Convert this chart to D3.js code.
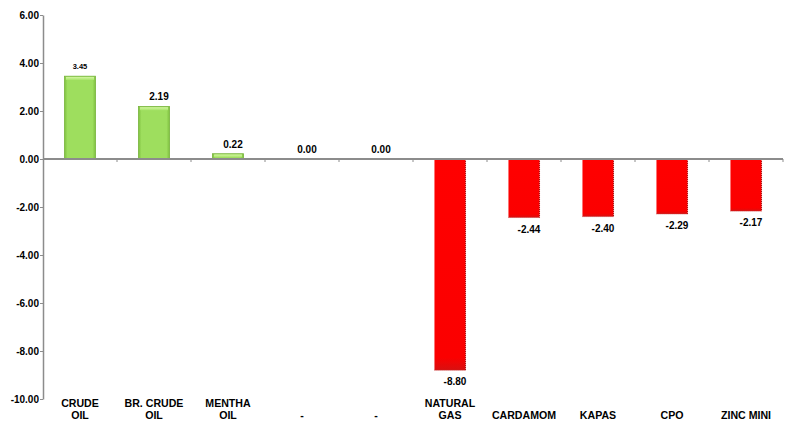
<!DOCTYPE html>
<html>
<head>
<meta charset="utf-8">
<script src="https://cdn.jsdelivr.net/npm/d3@7"></script>
<style>
  html, body { margin: 0; padding: 0; background: #fff; }
  svg { display: block; font-family: "Liberation Sans", Arial, sans-serif; }
</style>
</head>
<body>
<svg id="chart" width="790" height="421"></svg>
<script>
// Commodity price change (%)
const categories = [
  ["CRUDE", "OIL"], ["BR. CRUDE", "OIL"], ["MENTHA", "OIL"], ["-"], ["-"],
  ["NATURAL", "GAS"], ["CARDAMOM"], ["KAPAS"], ["CPO"], ["ZINC MINI"]
];
const values = [3.45, 2.19, 0.22, 0.00, 0.00, -8.80, -2.44, -2.40, -2.29, -2.17];
const yTicks = [6, 4, 2, 0, -2, -4, -6, -8, -10];

const fmt = v => v.toFixed(2); // plain hyphen for negatives

const svg = d3.select("#chart");
const plotLeft = 43, plotRight = 783, plotTop = 15, plotBottom = 399;

const x = d3.scaleBand()
  .domain(d3.range(values.length))
  .range([plotLeft, plotRight])
  .paddingInner(0.58)
  .paddingOuter(0.29);

const y = d3.scaleLinear().domain([-10, 6]).range([plotBottom, plotTop]);

// Gradients for the bevelled bars
const defs = svg.append("defs");
const gGreen = defs.append("linearGradient").attr("id", "green").attr("x1", 0).attr("x2", 1).attr("y1", 0).attr("y2", 0);
[[0, "#7fc040"], [0.1, "#9ede5e"], [0.9, "#9ede5e"], [1, "#7fc040"]]
  .forEach(([o, c]) => gGreen.append("stop").attr("offset", o).attr("stop-color", c));
const gGreenTop = defs.append("linearGradient").attr("id", "greenTop").attr("x1", 0).attr("x2", 0).attr("y1", 0).attr("y2", 1);
[[0, "#d2f5a0"], [1, "#a8e46a"]]
  .forEach(([o, c]) => gGreenTop.append("stop").attr("offset", o).attr("stop-color", c));
const gRed = defs.append("linearGradient").attr("id", "red").attr("x1", 0).attr("x2", 0).attr("y1", 0).attr("y2", 1);
[[0, "#ff0000"], [0.94, "#fb0000"], [1, "#d81010"]]
  .forEach(([o, c]) => gRed.append("stop").attr("offset", o).attr("stop-color", c));

// Y axis
const yAxis = d3.axisLeft(y).tickValues(yTicks).tickFormat(fmt)
  .tickSize(3).tickSizeOuter(0).tickPadding(1);
const ya = svg.append("g").attr("transform", `translate(${plotLeft},0)`).call(yAxis);
ya.attr("font-family", null);
ya.select(".domain").attr("stroke", "#8c8c8c").attr("stroke-width", 1.5);
ya.selectAll(".tick line").attr("stroke", "#8c8c8c");
ya.selectAll(".tick text")
  .attr("fill", "#000").attr("font-size", 10).attr("font-weight", "bold");

// Bars
const bars = svg.append("g");
values.forEach((v, i) => {
  const x0 = x(i), w = x.bandwidth();
  const y0 = y(Math.max(0, v)), h = Math.abs(y(v) - y(0));
  if (h < 0.5) return;
  if (v > 0) {
    bars.append("rect").attr("x", x0).attr("y", y0).attr("width", w).attr("height", h)
      .attr("fill", "url(#green)").attr("stroke", "#78b43c").attr("stroke-width", 0.8);
    bars.append("rect").attr("x", x0 + 1.5).attr("y", y0 + 0.8).attr("width", w - 3).attr("height", Math.min(3, h / 2))
      .attr("fill", "url(#greenTop)");
  } else {
    bars.append("rect").attr("x", x0).attr("y", y0).attr("width", w).attr("height", h)
      .attr("fill", "url(#red)");
    bars.append("line").attr("x1", x0 + w).attr("x2", x0 + w).attr("y1", y0).attr("y2", y0 + h)
      .attr("stroke", "#a01010").attr("stroke-width", 1).attr("stroke-dasharray", "1,1");
    bars.append("line").attr("x1", x0).attr("x2", x0 + w).attr("y1", y0 + h).attr("y2", y0 + h)
      .attr("stroke", "#c03030").attr("stroke-width", 0.8).attr("stroke-dasharray", "1,1");
  }
});

// Zero line with category ticks
svg.append("line").attr("x1", plotLeft).attr("x2", plotRight).attr("y1", y(0)).attr("y2", y(0))
  .attr("stroke", "#8c8c8c").attr("stroke-width", 2);
d3.range(1, values.length + 1).forEach(i => {
  const tx = plotLeft + i * x.step();
  svg.append("line").attr("x1", tx).attr("x2", tx).attr("y1", y(0)).attr("y2", y(0) + 3)
    .attr("stroke", "#8c8c8c").attr("stroke-width", 1);
});

// Value labels
values.forEach((v, i) => {
  const cx = x(i) + x.bandwidth() / 2;
  const small = i === 0;
  svg.append("text")
    .attr("x", cx + (small ? 0 : 5))
    .attr("y", v >= 0 ? y(v) - (small ? 7 : 6) : y(v) + 15)
    .attr("text-anchor", "middle")
    .attr("font-size", small ? 7.5 : 10)
    .attr("font-weight", "bold")
    .attr("fill", "#000")
    .text(fmt(v));
});

// Category labels, bottom-aligned
categories.forEach((lines, i) => {
  const cx = x(i) + x.bandwidth() / 2;
  const t = svg.append("text").attr("text-anchor", "middle")
    .attr("font-size", 10.6).attr("font-weight", "bold").attr("fill", "#000");
  lines.forEach((s, k) => {
    t.append("tspan").attr("x", cx)
      .attr("y", 419 - (lines.length - 1 - k) * 12)
      .text(s);
  });
});
</script>
</body>
</html>
